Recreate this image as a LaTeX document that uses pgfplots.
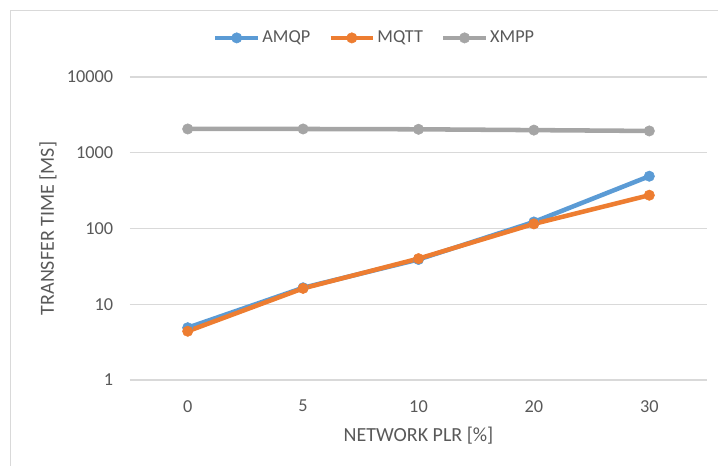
\documentclass[border=0pt]{standalone}
\usepackage{fontspec}
\setmainfont{Carlito}
\usepackage{pgfplots}
\pgfplotsset{compat=1.18}
\definecolor{cA}{HTML}{5B9BD5}
\definecolor{cM}{HTML}{ED7D31}
\definecolor{cX}{HTML}{A5A5A5}
\definecolor{gridc}{HTML}{D9D9D9}
\definecolor{txt}{HTML}{595959}
\begin{document}
\begin{tikzpicture}[x=0.75pt,y=0.75pt]
\path[use as bounding box] (0,0) rectangle (718,466);
\draw[gridc, line width=0.75pt] (10,455) rectangle (745,-30);
\begin{axis}[
  at={(97.5pt,64.5pt)}, anchor=south west,
  width=432.75pt, height=227.25pt, scale only axis,
  xmin=-0.5, xmax=4.5,
  ymode=log, ymin=1, ymax=10000,
  xtick={0,1,2,3,4}, xticklabels={0,5,10,20,30},
  ytick={1,10,100,1000,10000}, yticklabels={1,10,100,1000,10000},
  minor ytick={}, 
  axis line style={draw=none},
  tick style={draw=none},
  ymajorgrids, major grid style={gridc, line width=0.9pt},
  ticklabel style={font=\fontsize{13.7}{16}\selectfont, text=txt},
  yticklabel style={inner sep=0pt, xshift=-12.5pt},
  xticklabel style={inner sep=0pt, yshift=-15pt},
  xlabel={NETWORK PLR [\%]}, ylabel={TRANSFER TIME [MS]},
  label style={font=\fontsize{15}{18}\selectfont, text=txt},
  xlabel style={at={(axis description cs:0.5,-0.185)}, anchor=center},
  ylabel style={at={(axis description cs:-0.142,0.5)}, anchor=center, rotate=0},
  legend columns=-1,
  legend style={at={(axis description cs:0.424,1.129)}, anchor=center, draw=none, fill=none,
    font=\fontsize{13.7}{16}\selectfont, text=txt,
    /tikz/every even column/.append style={column sep=12pt},
    nodes={inner sep=1.5pt}},
  legend image code/.code={\draw[mark repeat=2,mark phase=2,#1] plot coordinates {(0pt,0pt)(16pt,0pt)(32pt,0pt)};},
  every axis plot/.append style={line width=3.4pt, mark=*, mark size=3.9pt, mark options={solid, line width=0.4pt}},
  clip=false,
]
\addplot[cA] coordinates {(0,4.9) (1,16.5) (2,39) (3,122) (4,490)};
\addlegendentry{AMQP}
\addplot[cM] coordinates {(0,4.4) (1,16.2) (2,40) (3,115) (4,275)};
\addlegendentry{MQTT}
\addplot[cX] coordinates {(0,2060) (1,2060) (2,2040) (3,1990) (4,1940)};
\addlegendentry{XMPP}
\end{axis}
\end{tikzpicture}
\end{document}
